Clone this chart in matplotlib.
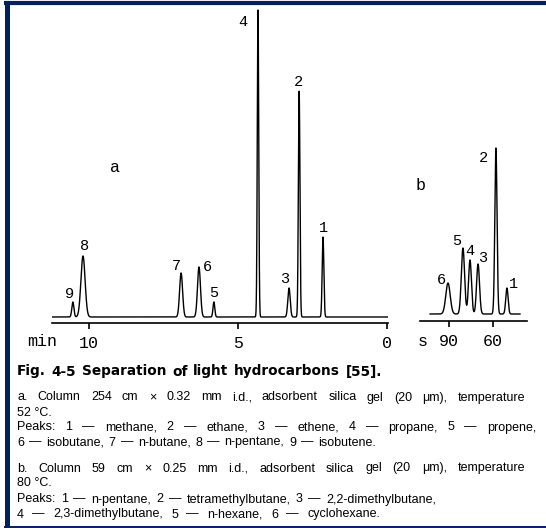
import numpy as np
import matplotlib
matplotlib.use("Agg")
import matplotlib.pyplot as plt
from matplotlib.lines import Line2D

# pic a: retention time (min), height, width (min)
peaks_a = ["1", "2", "3", "4", "5", "6", "7", "8", "9"]
time_a = [2.15, 2.95, 3.29, 4.33, 5.81, 6.31, 6.91, 10.2, 10.54]
height_a = [80, 226, 29, 307, 15, 50, 44, 61, 15]
width_a = [0.028, 0.026, 0.04, 0.024, 0.03, 0.05, 0.05, 0.07, 0.035]
ticks_a = [10, 5, 0]

# pic b: retention time (s), height, width (s)
peaks_b = ["1", "2", "3", "4", "5", "6"]
time_b = [50.5, 58.0, 70.2, 75.7, 80.5, 90.7]
height_b = [26, 166, 50, 54, 66, 31]
width_b = [0.8, 0.75, 1.0, 1.0, 1.1, 1.5]
ticks_b = [90, 60]

# offsets des etiquettes (pixels)
off_a = [(0, 9), (-1, 9), (-4, 9), (-15, -12), (0, 9), (8, 0), (-5, 7), (2, 10), (-3, 8)]
off_b = [(7, 4), (-12, -10), (5, 6), (0, 9), (-6, 7), (-7, 3)]

titre = "Fig. 4-5 Separation of light hydrocarbons [55]."
lignes = [
    "a. Column 254 cm \u00d7 0.32 mm i.d., adsorbent silica gel (20 \u03bcm), temperature",
    "52 \u00b0C.",
    "Peaks: 1 \u2014 methane, 2 \u2014 ethane, 3 \u2014 ethene, 4 \u2014 propane, 5 \u2014 propene,",
    "6 \u2014 isobutane, 7 \u2014 n-butane, 8 \u2014 n-pentane, 9 \u2014 isobutene.",
    "b. Column 59 cm \u00d7 0.25 mm i.d., adsorbent silica gel (20 \u03bcm), temperature",
    "80 \u00b0C.",
    "Peaks: 1 \u2014 n-pentane, 2 \u2014 tetramethylbutane, 3 \u2014 2,2-dimethylbutane,",
    "4 \u2014 2,3-dimethylbutane, 5 \u2014 n-hexane, 6 \u2014 cyclohexane.",
]
lignes_y = [396, 411, 426, 441, 467, 482, 498, 513]
lignes_fin = [525, None, 536, 376, 525, None, 436, 380]

W, H = 546, 528
fig = plt.figure(figsize=(W / 100, H / 100), dpi=100)
renderer = fig.canvas.get_renderer()

def box(x0, x1, y0, y1):
    return [x0 / W, 1 - y1 / H, (x1 - x0) / W, (y1 - y0) / H]

mono = "Liberation Mono"
navy = "#00205f"

def chromato(ax, t, times, heights, widths):
    y = np.zeros_like(t)
    for t0, h, w in zip(times, heights, widths):
        y += h * np.exp(-0.5 * ((t - t0) / w) ** 2)
    ax.plot(t, y, color="black", lw=1.0)
    for s in ["top", "left", "right"]:
        ax.spines[s].set_visible(False)
    ax.spines["bottom"].set_linewidth(1.2)
    ax.set_yticks([])
    ax.tick_params(axis="x", direction="out", length=4, width=1.2, pad=5)

# --- a ---
ax_a = fig.add_axes(box(52, 388, 8, 323))
t_a = np.linspace(11.24, -0.03, 4000)
chromato(ax_a, t_a, time_a, height_a, width_a)
ax_a.set_xlim(11.24, -0.03)
ax_a.set_ylim(-6, 309)
ax_a.set_xticks(ticks_a)
ax_a.set_xticklabels([str(v) for v in ticks_a], family=mono, fontsize=12)
for lab, t0, h, off in zip(peaks_a, time_a, height_a, off_a):
    ax_a.annotate(lab, (t0, h), xytext=off, textcoords="offset pixels",
                  ha="center", va="center", family=mono, fontsize=11)

# --- b ---
ax_b = fig.add_axes(box(420, 527, 140, 321))
t_b = np.linspace(102.9, 41.6, 2000)
chromato(ax_b, t_b, time_b, height_b, width_b)
ax_b.set_xlim(109.8, 36.8)
ax_b.set_ylim(-7, 174)
ax_b.set_xticks(ticks_b)
ax_b.set_xticklabels([str(v) for v in ticks_b], family=mono, fontsize=12)
for lab, t0, h, off in zip(peaks_b, time_b, height_b, off_b):
    ax_b.annotate(lab, (t0, h), xytext=off, textcoords="offset pixels",
                  ha="center", va="center", family=mono, fontsize=11)

def ftext(x, y, s, **kw):
    return fig.text(x / W, 1 - y / H, s, **kw)

ftext(42, 341, "min", family=mono, fontsize=12, ha="center", va="center")
ftext(423, 341, "s", family=mono, fontsize=12, ha="center", va="center")
ftext(115, 168, "a", family=mono, fontsize=12, ha="center", va="center")
ftext(421, 185, "b", family=mono, fontsize=12, ha="center", va="center")

# texte justifie mot par mot entre x0 et x1 (ligne de base a y)
def justifie(y, s, x0, x1, **kw):
    if x1 is None:
        ftext(x0, y, s, va="baseline", **kw)
        return
    mots = s.split()
    objs = [ftext(0, y, m, va="baseline", **kw) for m in mots]
    larg = [o.get_window_extent(renderer).width for o in objs]
    gap = (x1 - x0 - sum(larg)) / max(len(mots) - 1, 1)
    x = x0
    for o, w in zip(objs, larg):
        o.set_x(x / W)
        x += w + gap

x_txt = 17
justifie(375.5, titre, x_txt, 382, family="DejaVu Sans", fontsize=9.8, weight="bold")
for y, s, x1 in zip(lignes_y, lignes, lignes_fin):
    justifie(y + 4.5, s, x_txt, x1, family="Liberation Sans", fontsize=9.0)

# cadre bleu
fig.add_artist(Line2D([6.5 / W, 6.5 / W], [0, 1 - 1 / H], color=navy, lw=3.6,
                      transform=fig.transFigure, solid_capstyle="butt"))
fig.add_artist(Line2D([4 / W, 1], [1 - 3 / H, 1 - 3 / H], color=navy, lw=3.0,
                      transform=fig.transFigure, solid_capstyle="butt"))
fig.add_artist(Line2D([4 / W, 1], [1.2 / H, 1.2 / H], color=navy, lw=1.4,
                      transform=fig.transFigure, solid_capstyle="butt"))

fig.savefig("out.png", dpi=100)
